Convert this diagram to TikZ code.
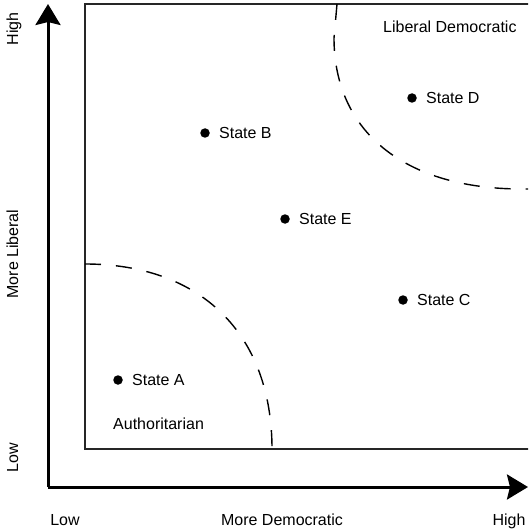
\documentclass[tikz,border=0pt]{standalone}
\usepackage{fontspec}
\setmainfont{Liberation Sans}
\usetikzlibrary{arrows.meta,positioning}

\tikzset{
  state/.style={circle,fill,inner sep=0pt,minimum size=9.5pt},
  axis/.style={line width=3pt,-{Stealth[length=21pt,width=25pt,inset=3pt]}},
  zone/.style={line width=1.4pt,dash pattern=on 16pt off 15pt},
}

\begin{document}
\begin{tikzpicture}[x=1pt,y=-1pt,inner sep=0pt,font=\fontsize{16}{19}\selectfont]
  \useasboundingbox (0,0) rectangle (528,529);
  \clip (0,0) rectangle (528,529);
  % frame and regions
  \draw[line width=1.5pt,black!85] (85,4) rectangle (540,449);
  \draw[zone] (85,264) .. controls (201,264) and (272,334) .. (272,449);
  \draw[zone] (337,4) -- (334,38) .. controls (334,132) and (405,189) .. (522,189) -- (540,189);
  \node[anchor=west] (libdem) at (383,27) {Liberal Democratic};
  \node[anchor=west] (auth) at (113,424) {Authoritarian};
  % axes
  \coordinate (o) at (48,487);
  \coordinate (ytop) at (48,4);
  \coordinate (xend) at (528,487);
  \draw[axis] (o) -- (ytop);
  \draw[axis] (o) -- (xend);
  \node[rotate=90,anchor=base] (yhigh) at (18,29) {High};
  \node[rotate=90,anchor=base] (ylabel) at (18,254) {More Liberal};
  \node[rotate=90,anchor=base] (ylow) at (18,458) {Low};
  \node[anchor=base] (xlow) at (65,525) {Low};
  \node[anchor=base] (xlabel) at (282,525) {More Democratic};
  \node[anchor=base] (xhigh) at (509,525) {High};
  % states
  \node[state] (a) at (118,380) {};
  \node[right=9pt of a] (namea) {State A};
  \node[state] (b) at (205,133) {};
  \node[right=9pt of b] (nameb) {State B};
  \node[state] (c) at (403,300) {};
  \node[right=9pt of c] (namec) {State C};
  \node[state] (d) at (412,98) {};
  \node[right=9pt of d] (named) {State D};
  \node[state] (e) at (285,219) {};
  \node[right=9pt of e] (namee) {State E};
\end{tikzpicture}
\end{document}
